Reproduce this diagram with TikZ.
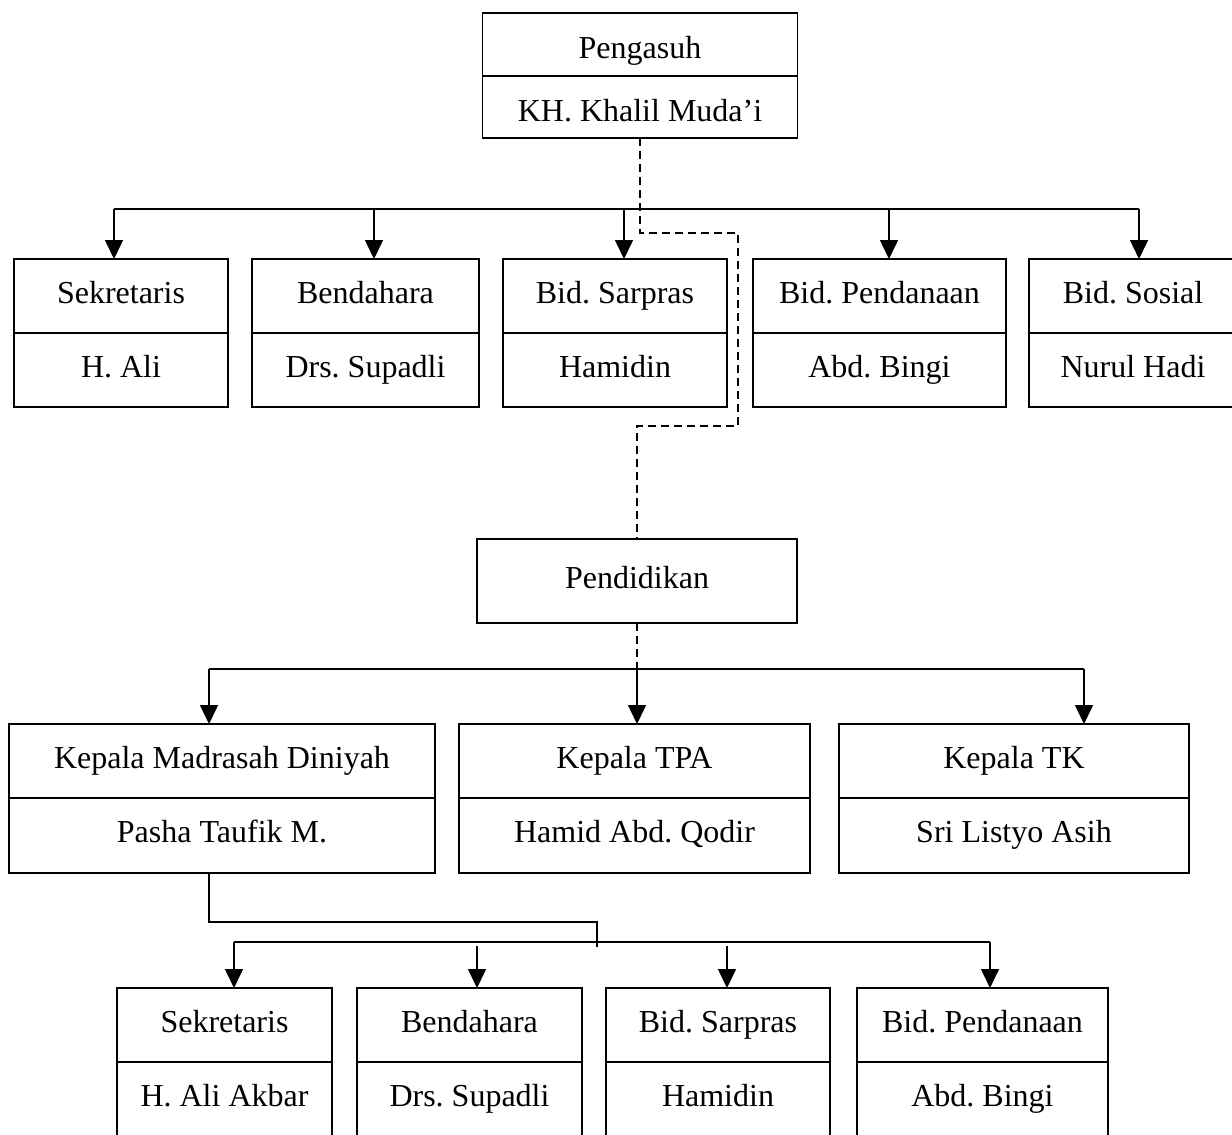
\documentclass[tikz,border=0pt]{standalone}
\usepackage{fontspec}
\setmainfont{Liberation Serif}
\usetikzlibrary{positioning,arrows.meta}
\tikzset{
    kotak/.style = {draw, line width=0.8pt, inner sep=0pt, outer sep=0pt, minimum height=37pt, text height=11pt, text depth=4pt, font=\fontsize{16}{19}\selectfont\frenchspacing},
    garis/.style = {line width=0.8pt},
    panah/.style = {line width=0.8pt, -{Triangle[width=9pt,length=9.5pt]}},
    putus/.style = {line width=0.8pt, dash pattern=on 4pt off 2.5pt},
}
\begin{document}
    \begin{tikzpicture}[x = 0.5pt, y = -0.5pt]
        \useasboundingbox (0,0) rectangle (1232,1135);
        \node [kotak, minimum width=157.5pt, minimum height=31.5pt, text height=15.5pt, text depth=1.5pt] (pengasuh) at (640,44.5) {Pengasuh};
        \node [kotak, minimum width=157.5pt, minimum height=31pt, text height=15.5pt, text depth=1.5pt, below=0pt of pengasuh] (khalil) {KH. Khalil Muda’i};
        \node [kotak, minimum width=107pt] (sek1) at (121,296) {Sekretaris};
        \node [kotak, minimum width=107pt, below=0pt of sek1] (sek1n) {H. Ali};
        \node [kotak, minimum width=113.5pt] (ben1) at (365.5,296) {Bendahara};
        \node [kotak, minimum width=113.5pt, below=0pt of ben1] (ben1n) {Drs. Supadli};
        \node [kotak, minimum width=112pt] (sar1) at (615,296) {Bid. Sarpras};
        \node [kotak, minimum width=112pt, below=0pt of sar1] (sar1n) {Hamidin};
        \node [kotak, minimum width=126.5pt] (dana1) at (879.5,296) {Bid. Pendanaan};
        \node [kotak, minimum width=126.5pt, below=0pt of dana1] (dana1n) {Abd. Bingi};
        \node [kotak, minimum width=104pt] (sos1) at (1133,296) {Bid. Sosial};
        \node [kotak, minimum width=104pt, below=0pt of sos1] (sos1n) {Nurul Hadi};
        \node [kotak, minimum width=160pt, minimum height=42pt] (pendidikan) at (637,581) {Pendidikan};
        \node [kotak, minimum width=213pt] (kmd) at (222,761) {Kepala Madrasah Diniyah};
        \node [kotak, minimum width=213pt, minimum height=37.5pt, below=0pt of kmd] (kmdn) {Pasha Taufik M.};
        \node [kotak, minimum width=175.5pt] (tpa) at (634.5,761) {Kepala TPA};
        \node [kotak, minimum width=175.5pt, minimum height=37.5pt, below=0pt of tpa] (tpan) {Hamid Abd. Qodir};
        \node [kotak, minimum width=175pt] (ktk) at (1014,761) {Kepala TK};
        \node [kotak, minimum width=175pt, minimum height=37.5pt, below=0pt of ktk] (ktkn) {Sri Listyo Asih};
        \node [kotak, minimum width=107.5pt] (sek2) at (224.5,1025) {Sekretaris};
        \node [kotak, minimum width=107.5pt, below=0pt of sek2] (sek2n) {H. Ali Akbar};
        \node [kotak, minimum width=112.5pt] (ben2) at (469.5,1025) {Bendahara};
        \node [kotak, minimum width=112.5pt, below=0pt of ben2] (ben2n) {Drs. Supadli};
        \node [kotak, minimum width=112pt] (sar2) at (718,1025) {Bid. Sarpras};
        \node [kotak, minimum width=112pt, below=0pt of sar2] (sar2n) {Hamidin};
        \node [kotak, minimum width=125.5pt] (dana2) at (982.5,1025) {Bid. Pendanaan};
        \node [kotak, minimum width=125.5pt, below=0pt of dana2] (dana2n) {Abd. Bingi};
        \coordinate (bus1) at (639,209);
        \coordinate (belok1) at (738,233);
        \coordinate (belok2) at (738,426);
        \draw [putus] (khalil.south) |- (belok1) -- (belok2) -| (pendidikan.north);
        \draw [garis] ([xshift=-3.5pt]sek1.north |- bus1) -- ([xshift=3pt]sos1.north |- bus1);
        \draw [panah] ([xshift=-3.5pt]sek1.north |- bus1) -- ([xshift=-3.5pt]sek1.north);
        \draw [panah] ([xshift=4.25pt]ben1.north |- bus1) -- ([xshift=4.25pt]ben1.north);
        \draw [panah] ([xshift=4.5pt]sar1.north |- bus1) -- ([xshift=4.5pt]sar1.north);
        \draw [panah] ([xshift=4.75pt]dana1.north |- bus1) -- ([xshift=4.75pt]dana1.north);
        \draw [panah] ([xshift=3pt]sos1.north |- bus1) -- ([xshift=3pt]sos1.north);
        \coordinate (bus2) at (637,669);
        \draw [putus] (pendidikan.south) -- (pendidikan.south |- bus2);
        \draw [garis] ([xshift=-6.5pt]kmd.north |- bus2) -- ([xshift=35pt]ktk.north |- bus2);
        \draw [panah] ([xshift=-6.5pt]kmd.north |- bus2) -- ([xshift=-6.5pt]kmd.north);
        \draw [panah] (pendidikan.south |- bus2) -- (pendidikan.south |- tpa.north);
        \draw [panah] ([xshift=35pt]ktk.north |- bus2) -- ([xshift=35pt]ktk.north);
        \coordinate (siku) at (597,922);
        \coordinate (ujung) at (597,947);
        \coordinate (bus3) at (597,942);
        \draw [garis] ([xshift=-6.5pt]kmdn.south) |- (siku) -- (ujung);
        \draw [garis] ([xshift=4.75pt]sek2.north |- bus3) -- ([xshift=3.75pt]dana2.north |- bus3);
        \draw [panah] ([xshift=4.75pt]sek2.north |- bus3) -- ([xshift=4.75pt]sek2.north);
        \draw [panah, shorten <=2pt] ([xshift=3.75pt]ben2.north |- bus3) -- ([xshift=3.75pt]ben2.north);
        \draw [panah, shorten <=2pt] ([xshift=4.5pt]sar2.north |- bus3) -- ([xshift=4.5pt]sar2.north);
        \draw [panah] ([xshift=3.75pt]dana2.north |- bus3) -- ([xshift=3.75pt]dana2.north);
    \end{tikzpicture}
\end{document}
